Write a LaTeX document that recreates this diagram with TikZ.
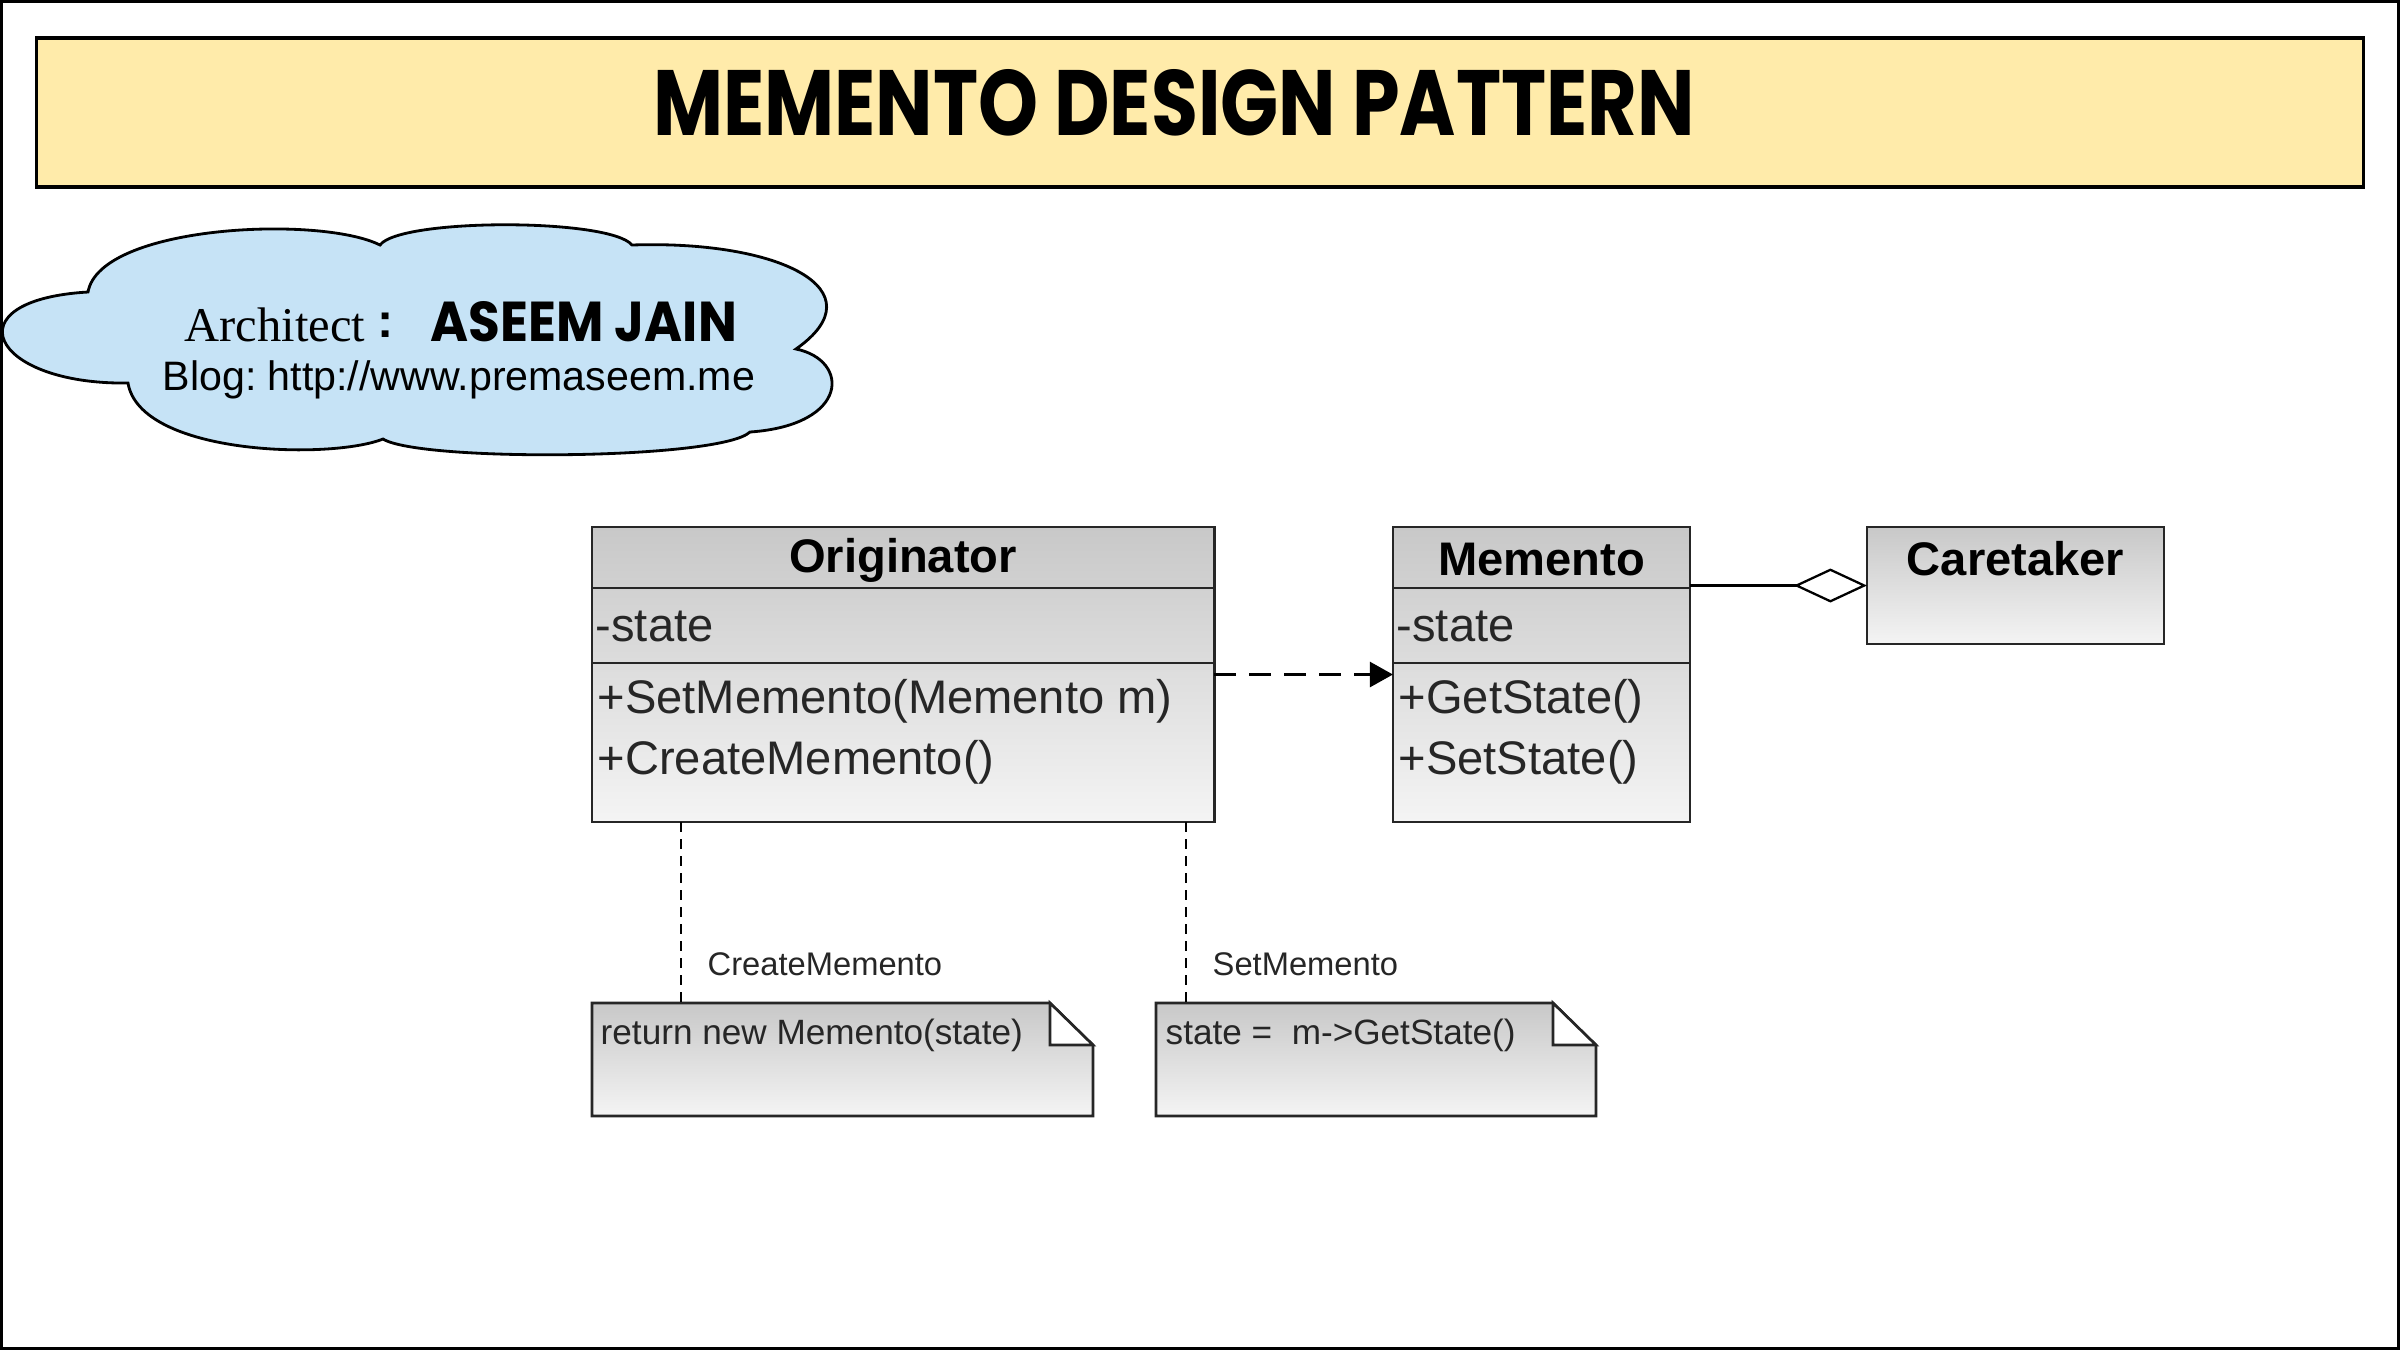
\documentclass[tikz,border=0pt]{standalone}
\usepackage{graphicx}
\usepackage{fontspec}
\setmainfont{Liberation Sans}
\newfontfamily\serifA{Liberation Serif}
\newfontfamily\comic{Poppins}
\usetikzlibrary{arrows.meta}
\definecolor{titlefill}{HTML}{FFEBAA}
\definecolor{cloudfill}{HTML}{C6E3F6}
\definecolor{umltop}{HTML}{C8C8C8}
\definecolor{umlbot}{HTML}{F4F4F4}
\frenchspacing
\begin{document}
\begin{tikzpicture}[x=0.01cm,y=-0.01cm,
  umlbox/.style={draw=black!85, line width=0.75pt, top color=umltop, bottom color=umlbot, inner sep=0pt, outer sep=0pt},
  sepline/.style={draw=black!85, line width=0.75pt},
  cname/.style={inner sep=0pt, font=\fontsize{13.4}{16}\selectfont\bfseries},
  member/.style={inner sep=0pt, anchor=west, font=\fontsize{13.4}{16}\selectfont, text=black!85},
  notetxt/.style={inner sep=0pt, anchor=west, font=\fontsize{10}{12}\selectfont, text=black!85},
  linklabel/.style={inner sep=0pt, anchor=west, font=\fontsize{9.3}{11}\selectfont, text=black!85},
  notebody/.style={draw=black!85, line width=0.75pt, top color=umltop, bottom color=umlbot},
  notelink/.style={draw=black, line width=0.5pt, dash pattern=on 0.1cm off 0.07cm},
  dep/.style={draw=black, line width=0.75pt, dash pattern=on 0.22cm off 0.13cm, -{Triangle[length=0.23cm,width=0.25cm]}},
  agg/.style={draw=black, line width=0.65pt, -{Diamond[fill=white,length=0.73cm,width=0.34cm]}}
]
\useasboundingbox (0,0) rectangle (2400,1350);
% outer frame
\draw[line width=0.9pt] (1.5,1.5) rectangle (2398.5,1348.5);
% title
\node[draw, line width=0.9pt, fill=titlefill, minimum width=23.26cm, minimum height=1.49cm, inner sep=0pt] (title) at (1200,112.5) {};
\node[inner sep=0pt] (titletext) at (1174,103) {\resizebox{10.41cm}{0.66cm}{\comic\bfseries MEMENTO DESIGN PATTERN}};
% cloud
\filldraw[fill=cloudfill, draw=black, line width=0.8pt]
  (128,383) .. controls (-10,385) and (-50,300) .. (88,292)
  .. controls (100,225) and (320,215) .. (380,245)
  .. controls (400,218) and (610,218) .. (632,245)
  .. controls (780,240) and (880,290) .. (796,349)
  .. controls (850,360) and (850,425) .. (750,432)
  .. controls (720,460) and (420,462) .. (383,439)
  .. controls (330,460) and (140,455) .. (128,383) -- cycle;
\node[inner sep=0pt, anchor=west, font=\fontsize{13.8}{16}\selectfont\serifA] (arch) at (184,325) {Architect};
\node[inner sep=0pt, font=\fontsize{13.8}{16}\selectfont\bfseries] (colon) at (386,325) {:};
\node[inner sep=0pt, anchor=west] (aseem) at (430,322) {\resizebox{3.06cm}{0.4cm}{\comic\bfseries ASEEM JAIN}};
\node[inner sep=0pt, anchor=west, font=\fontsize{11.7}{14}\selectfont] (blog) at (162,380) {Blog: http://www.premaseem.me};
% classes
\node[umlbox, minimum width=6.22cm, minimum height=2.95cm] (orig) at (903,674.5) {};
\draw[sepline] (592,588) -- (1214,588);
\draw[sepline] (592,663) -- (1214,663);
\node[cname] (origname) at (903,560) {Originator};
\node[member] (origattr) at (595,626) {-state};
\node[member] (origm1) at (597,701) {+SetMemento(Memento m)};
\node[member] (origm2) at (597,762) {+CreateMemento()};

\node[umlbox, minimum width=2.97cm, minimum height=2.95cm] (mem) at (1541.5,674.5) {};
\draw[sepline] (1393,588) -- (1690,588);
\draw[sepline] (1393,663) -- (1690,663);
\node[cname] (memname) at (1541.5,559) {Memento};
\node[member] (memattr) at (1396,626) {-state};
\node[member] (memm1) at (1398,701) {+GetState()};
\node[member] (memm2) at (1398,762) {+SetState()};

\node[umlbox, minimum width=2.97cm, minimum height=1.17cm] (care) at (2015.5,585.5) {};
\node[cname] (carename) at (2015.5,559) {Caretaker};

% connectors
\draw[dep] (orig.east) -- (mem.west);
\draw[agg] (mem.east |- care.west) -- (care.west);

% notes
\node[inner sep=0pt, minimum width=5.01cm, minimum height=1.13cm] (n1) at (842.5,1059.5) {};
\path[notebody] (592,1003) -- (1050,1003) -- (1093,1045) -- (1093,1116) -- (592,1116) -- cycle;
\filldraw[fill=white, draw=black!85, line width=0.75pt] (1050,1003) -- (1050,1045) -- (1093,1045) -- cycle;
\node[notetxt] (n1txt) at (600,1035) {return new Memento(state)};

\node[inner sep=0pt, minimum width=4.40cm, minimum height=1.13cm] (n2) at (1376,1059.5) {};
\path[notebody] (1156,1003) -- (1553,1003) -- (1596,1045) -- (1596,1116) -- (1156,1116) -- cycle;
\filldraw[fill=white, draw=black!85, line width=0.75pt] (1553,1003) -- (1553,1045) -- (1596,1045) -- cycle;
\node[notetxt] (n2txt) at (1165,1035) {state =\ \ m->GetState()};

\coordinate (o1) at (681,822);
\coordinate (o2) at (1186,822);
\draw[notelink] (o1) -- (o1 |- n1.north);
\draw[notelink] (o2) -- (o2 |- n2.north);
\node[linklabel] (l1) at (707,964) {CreateMemento};
\node[linklabel] (l2) at (1212,964) {SetMemento};
\end{tikzpicture}
\end{document}
